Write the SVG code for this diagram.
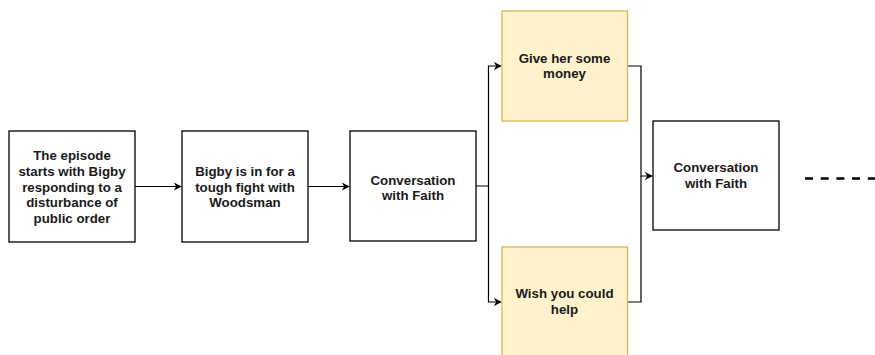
<svg xmlns="http://www.w3.org/2000/svg" width="875" height="355" viewBox="0 0 875 355">
<style>
.box{fill:#ffffff;stroke:#000000;stroke-width:1.3}
.opt{fill:#fff2cc;stroke:#d6b656;stroke-width:1.3}
.t{font-family:"Liberation Sans",Arial,sans-serif;font-size:13.3px;font-weight:bold;fill:#1a1a1a;text-anchor:middle}
.c{fill:none;stroke:#000000;stroke-width:1.2}
</style>
<defs>
<marker id="ah" viewBox="0 0 10 10" refX="9" refY="5" markerWidth="8" markerHeight="8" markerUnits="userSpaceOnUse" orient="auto">
<path d="M0,0 L10,5 L0,10 L3,5 Z" fill="#000000"/>
</marker>
</defs>
<g id="connectors">
<path class="c" d="M135,186.5 H181" marker-end="url(#ah)"/>
<path class="c" d="M308,186.5 H349" marker-end="url(#ah)"/>
<path class="c" d="M476,186 H488.5 V66 H501" marker-end="url(#ah)"/>
<path class="c" d="M488.5,186 V302 H501" marker-end="url(#ah)"/>
<path class="c" d="M627,66 H641 V176 H652" marker-end="url(#ah)"/>
<path class="c" d="M627,302 H641 V176"/>
<path d="M805,178.5 H875" fill="none" stroke="#000000" stroke-width="2.5" stroke-dasharray="8 7.7"/>
</g>
<g id="n1">
<rect class="box" x="9" y="131" width="126" height="111"/>
<text class="t" x="72" y="160.4">The episode</text>
<text class="t" x="72" y="176">starts with Bigby</text>
<text class="t" x="72" y="191.6">responding to a</text>
<text class="t" x="72" y="207.2">disturbance of</text>
<text class="t" x="72" y="222.8">public order</text>
</g>
<g id="n2">
<rect class="box" x="182" y="131" width="126" height="111"/>
<text class="t" x="245" y="176">Bigby is in for a</text>
<text class="t" x="245" y="191.6">tough fight with</text>
<text class="t" x="245" y="207.2">Woodsman</text>
</g>
<g id="n3">
<rect class="box" x="350" y="131" width="126" height="110"/>
<text class="t" x="413" y="184.5">Conversation</text>
<text class="t" x="413" y="200.1">with Faith</text>
</g>
<g id="n4">
<rect class="opt" x="502" y="11" width="125.5" height="110"/>
<text class="t" x="564.5" y="62.5">Give her some</text>
<text class="t" x="564.5" y="78.1">money</text>
</g>
<g id="n5">
<rect class="opt" x="502" y="247" width="125.5" height="110"/>
<text class="t" x="564.5" y="298">Wish you could</text>
<text class="t" x="564.5" y="313.6">help</text>
</g>
<g id="n6">
<rect class="box" x="653" y="121" width="126" height="109"/>
<text class="t" x="716" y="172.3">Conversation</text>
<text class="t" x="716" y="187.9">with Faith</text>
</g>
</svg>
